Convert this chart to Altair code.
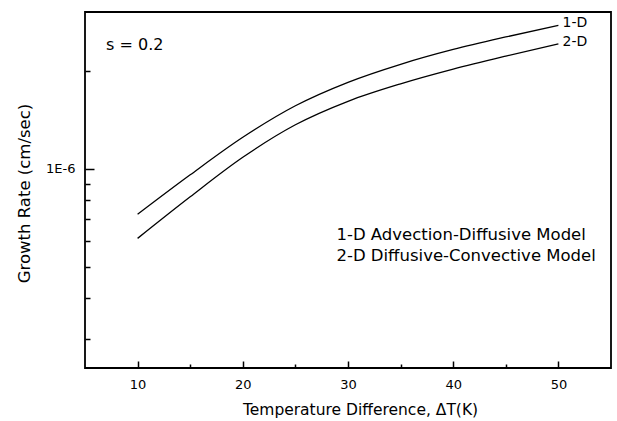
import altair as alt
import pandas as pd

# ---- data ----
dT = [10, 15, 20, 25, 30, 35, 40, 45, 50]
rate_1d = [7.256e-7, 9.597e-7, 1.2519e-6, 1.5652e-6, 1.8482e-6, 2.0998e-6, 2.3323e-6, 2.5478e-6, 2.7644e-6]
rate_2d = [6.117e-7, 8.212e-7, 1.0864e-6, 1.3677e-6, 1.6153e-6, 1.8286e-6, 2.0294e-6, 2.2257e-6, 2.4281e-6]

x_major = [10, 20, 30, 40, 50]
x_minor = [15, 25, 35, 45]
y_major = [1e-6]
y_minor = [2e-6, 9e-7, 8e-7, 7e-7, 6e-7, 5e-7, 4e-7, 3e-7]

end_labels = ["1-D", "2-D"]
end_x = [50.4, 50.4]
end_y = [2.818e-6, 2.454e-6]

legend_lines = ["1-D Advection-Diffusive Model", "2-D Diffusive-Convective Model"]
legend_x = [28.9, 28.9]
legend_y = [6.26e-7, 5.40e-7]

note_text = ["s = 0.2"]
note_x = [7.0]
note_y = [2.41e-6]

x_domain = [5, 55]
y_domain = [2.442e-7, 3.041e-6]

FONT = "DejaVu Sans"

curves = pd.DataFrame({
    "dT": dT * 2,
    "rate": rate_1d + rate_2d,
    "series": ["1-D"] * len(dT) + ["2-D"] * len(dT),
})
ends = pd.DataFrame({"label": end_labels, "x": end_x, "y": end_y})
legend_df = pd.DataFrame({"label": legend_lines, "x": legend_x, "y": legend_y})
note_df = pd.DataFrame({"label": note_text, "x": note_x, "y": note_y})

xscale = alt.Scale(domain=x_domain, nice=False, zero=False)
yscale = alt.Scale(type="log", domain=y_domain, nice=False)

common = dict(domain=False, grid=False, tickColor="black", labelColor="black", titleColor="black",
              labelFont=FONT, titleFont=FONT, tickWidth=1.5)

lines = alt.Chart(curves).mark_line(color="black", strokeWidth=1.3, interpolate="monotone").encode(
    x=alt.X("dT:Q", scale=xscale,
            axis=alt.Axis(orient="bottom", values=x_major, offset=-7, tickSize=7,
                          labelPadding=10, labelFontSize=13, title="Temperature Difference, \u0394T(K)",
                          titleFontSize=15.5, titleFontWeight="normal", titleX=275, titleY=48,
                          titleBaseline="middle", titleAnchor="middle", labelFlush=False, **common)),
    y=alt.Y("rate:Q", scale=yscale,
            axis=alt.Axis(orient="left", values=y_major, offset=-9, tickSize=9,
                          labelPadding=10, labelFontSize=13,
                          labelExpr="replace(format(datum.value, '.0e'), 'e', 'E')",
                          title="Growth Rate (cm/sec)", titleFontSize=16.5, titleFontWeight="normal",
                          titleX=-70, titleY=181, titleBaseline="middle", titleAngle=270,
                          titleAnchor="middle", labelFlush=False, **common)),
    detail="series:N",
)

end_text = alt.Chart(ends).mark_text(align="left", baseline="middle", fontSize=14, font=FONT, color="black").encode(
    x=alt.X("x:Q", scale=xscale,
            axis=alt.Axis(orient="bottom", values=x_minor, offset=-4, tickSize=4,
                          labels=False, title=None, **common)),
    y=alt.Y("y:Q", scale=yscale,
            axis=alt.Axis(orient="left", values=y_minor, offset=-5, tickSize=5,
                          labels=False, title=None, **common)),
    text="label:N",
)

legend_text = alt.Chart(legend_df).mark_text(align="left", baseline="middle", fontSize=16.5, font=FONT, color="black").encode(
    x=alt.X("x:Q", scale=xscale, axis=None),
    y=alt.Y("y:Q", scale=yscale, axis=None),
    text="label:N",
)

note = alt.Chart(note_df).mark_text(align="left", baseline="middle", fontSize=16, font=FONT, color="black").encode(
    x=alt.X("x:Q", scale=xscale, axis=None),
    y=alt.Y("y:Q", scale=yscale, axis=None),
    text="label:N",
)

chart = alt.layer(lines, end_text, legend_text, note).resolve_axis(
    x="independent", y="independent"
).properties(
    width=526, height=356,
    autosize=alt.AutoSizeParams(type="none"),
    padding={"left": 85, "top": 12, "right": 6, "bottom": 53},
    background="white",
).configure_view(
    stroke="black", strokeWidth=1.8
).configure_axis(
    domain=False, grid=False, tickColor="black", labelColor="black", titleColor="black",
    labelFont=FONT, titleFont=FONT,
)

chart.save("out.html", embed_options={"renderer": "svg", "actions": False})
